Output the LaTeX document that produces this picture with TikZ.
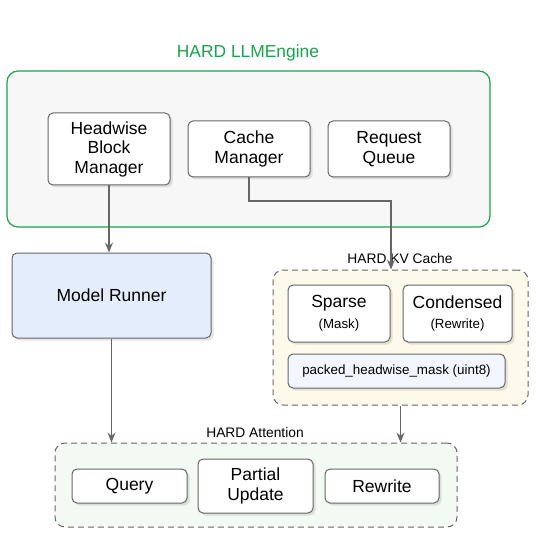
\documentclass[tikz,border=0pt]{standalone}
\usepackage{fontspec}
\setmainfont{Liberation Sans}
\usetikzlibrary{arrows.meta,shadows}
\definecolor{engreen}{HTML}{1BA24B}
\definecolor{linegray}{HTML}{666666}
\definecolor{runblue}{HTML}{E4EDFC}
\definecolor{kvyellow}{HTML}{FDFAEC}
\definecolor{attngreen}{HTML}{F3FAF3}
\definecolor{maskblue}{HTML}{F2F6FE}
\tikzset{
  module/.style={draw=linegray, line width=1pt, rounded corners=5pt, fill=white, align=center,
    inner sep=0pt, font=\fontsize{17.5}{19.5}\selectfont,
    drop shadow={shadow xshift=2.5pt, shadow yshift=-2.5pt, fill=black, opacity=0.1}},
  group/.style={draw=linegray, line width=1pt, dashed, dash pattern=on 6pt off 4pt, rounded corners=10pt, inner sep=0pt},
  grouplabel/.style={font=\fontsize{13.8}{16}\selectfont},
  flow/.style={draw=linegray, line width=1.5pt, -{Stealth[length=10pt,width=8pt,inset=3.5pt]}}
}
\begin{document}
\begin{tikzpicture}[x=1pt,y=-1pt]
\useasboundingbox (0,0) rectangle (535,537);
% engine
\node[draw=engreen, line width=1.2pt, fill=black!3, rounded corners=11pt, minimum width=483pt, minimum height=156pt] (engine) at (248.5,149) {};
\node[text=engreen, font=\fontsize{17.4}{20}\selectfont] (enginelabel) at (248,53) {HARD LLMEngine};
\node[module, minimum width=122pt, minimum height=72pt] (hbm) at (109,149) {Headwise\\Block\\Manager};
\node[module, minimum width=122pt, minimum height=56pt] (cm) at (249,149) {Cache\\Manager};
\node[module, minimum width=122pt, minimum height=56pt] (rq) at (389,149) {Request\\Queue};
% model runner
\node[module, fill=runblue, minimum width=199pt, minimum height=85pt] (mr) at (111.5,295.5) {Model Runner};
% kv cache
\node[group, fill=kvyellow, minimum width=255pt, minimum height=135pt] (kv) at (400.5,337.5) {};
\node[grouplabel] (kvlabel) at (400,259) {HARD KV Cache};
\node[module, minimum width=102pt, minimum height=57pt] (sparse) at (339,313.5) {Sparse\\[1pt]{\fontsize{13.3}{15}\selectfont (Mask)}};
\node[module, minimum width=109pt, minimum height=57pt] (cond) at (457.5,313.5) {Condensed\\[1pt]{\fontsize{13.3}{15}\selectfont (Rewrite)}};
\node[module, fill=maskblue, minimum width=217pt, minimum height=34pt, font=\fontsize{13.4}{15}\selectfont] (packed) at (396.5,371) {packed\_headwise\_mask (uint8)};
% attention
\node[group, fill=attngreen, minimum width=402pt, minimum height=84pt] (attn) at (256,485) {};
\node[grouplabel] (attnlabel) at (255,433) {HARD Attention};
\node[module, minimum width=115pt, minimum height=34pt] (query) at (129.5,486) {Query};
\node[module, minimum width=115pt, minimum height=54pt] (partial) at (255.5,486) {Partial\\Update};
\node[module, minimum width=114pt, minimum height=34pt] (rewrite) at (382,486) {Rewrite};
% connectors
\coordinate (bend) at (391,201);
\draw[flow] (hbm.south) -- (hbm.south |- mr.north);
\draw[flow, sharp corners] (cm.south) |- (bend) -- (bend |- kv.north);
\draw[flow] (mr.south) -- (mr.south |- attn.north);
\draw[flow] (kv.south) -- (kv.south |- attn.north);
\end{tikzpicture}
\end{document}
